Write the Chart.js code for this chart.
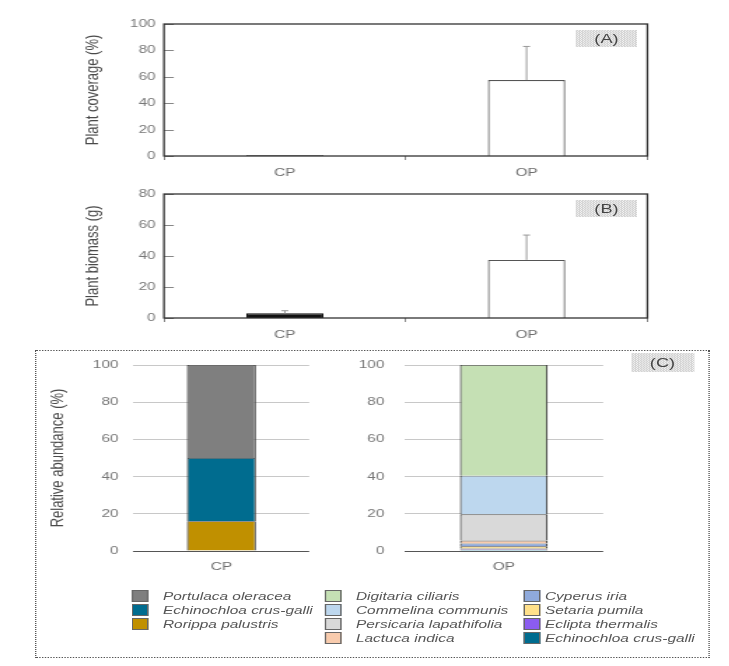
<!DOCTYPE html>
<html lang="en">
<head>
<meta charset="UTF-8">
<title>Plant coverage, biomass and relative abundance</title>
<script src="https://cdn.jsdelivr.net/npm/chart.js"></script>
<style>
  body, html {
    margin: 0;
    padding: 0;
    background: #fff;
  }
  /* the source figure is stretched sideways, so everything is laid out narrow and scaled */
  #fig {
    position: absolute;
    left: 0;
    top: 0;
    width: 521px;
    height: 666px;
    transform-origin: 0 0;
    transform: scaleX(1.4);
    font-family: 'Liberation Sans', Arial, sans-serif;
  }
  #fig canvas { position: absolute; }
  .tag {
    position: absolute;
    font-size: 13px;
    color: #444;
    text-align: center;
    background: repeating-conic-gradient(#d4d4d4 0 25%, #f2f2f2 0 50%) 0 0 / 2px 2px;
  }
  #boxC {
    position: absolute;
    border: 1px dotted #555;
    box-sizing: border-box;
  }
  .leg {
    position: absolute;
    font-size: 11px;
    font-style: italic;
    color: #555;
    white-space: nowrap;
    line-height: 14px;
  }
  .sw {
    position: absolute;
    border: 1px solid #666;
    box-sizing: border-box;
  }
</style>
</head>
<body>
<div id="fig">
  <div id="boxC"></div>
  <canvas id="chartA"></canvas>
  <canvas id="chartB"></canvas>
  <canvas id="chartCP"></canvas>
  <canvas id="chartOP"></canvas>
  <div class="tag" id="tagA">(A)</div>
  <div class="tag" id="tagB">(B)</div>
  <div class="tag" id="tagC">(C)</div>
  <div id="legend"></div>
</div>

<script>
const K = 1.4;

// data
const groups = ['CP', 'OP'];
const coverageMean = [0.6, 57.5];
const coverageErr = [0, 25.5];
const biomassMean = [3, 37.5];
const biomassErr = [1.7, 16];

// stacks, bottom to top
const cpSpecies = ['Rorippa palustris', 'Echinochloa crus-galli', 'Portulaca oleracea'];
const cpShare = [16, 34, 50];
const cpColors = ['#c09000', '#006c8f', '#7f7f7f'];

const opSpecies = ['Echinochloa crus-galli', 'Eclipta thermalis', 'Setaria pumila', 'Cyperus iria',
                   'Lactuca indica', 'Persicaria lapathifolia', 'Commelina communis', 'Digitaria ciliaris'];
const opShare = [0.8, 0.5, 1.2, 1.5, 1.6, 14.1, 20.8, 59.5];
const opColors = ['#006c8f', '#8b5cf0', '#ffe08a', '#8faadc', '#f8cbad', '#d9d9d9', '#bdd7ee', '#c5e0b4'];

const FONT = "'Liberation Sans', Arial, sans-serif";
Chart.defaults.font.family = FONT;

// positions are given in page pixels and squeezed by K
function place(id, left, top, w, h) {
    const el = document.getElementById(id);
    el.width = Math.round(w / K);
    el.height = h;
    el.style.left = (left / K) + 'px';
    el.style.top = top + 'px';
    return el;
}

function box(id, left, top, w, h) {
    const el = document.getElementById(id);
    el.style.left = (left / K) + 'px';
    el.style.top = top + 'px';
    el.style.width = (w / K) + 'px';
    el.style.height = h + 'px';
    el.style.lineHeight = h + 'px';
    return el;
}

// frame round the plot plus short inward ticks
const framePlugin = {
    id: 'frame',
    afterDatasetsDraw(chart) {
        const { ctx, chartArea: a, scales: { y } } = chart;
        ctx.save();
        ctx.strokeStyle = '#888';
        ctx.lineWidth = 1;
        y.ticks.forEach(t => {
            const py = Math.round(y.getPixelForValue(t.value)) + 0.5;
            ctx.beginPath();
            ctx.moveTo(a.left, py);
            ctx.lineTo(a.left + 7, py);
            ctx.stroke();
        });
        ctx.strokeStyle = '#333';
        ctx.lineWidth = 1.3;
        ctx.strokeRect(a.left, a.top, a.right - a.left, a.bottom - a.top);
        ctx.restore();
    }
};

function errorBars(errs) {
    return {
        id: 'errorBars',
        afterDatasetsDraw(chart) {
            const { ctx, scales: { y } } = chart;
            const meta = chart.getDatasetMeta(0);
            const vals = chart.data.datasets[0].data;
            ctx.save();
            ctx.strokeStyle = '#999';
            ctx.lineWidth = 1;
            errs.forEach((e, i) => {
                if (!e) return;
                const bar = meta.data[i];
                const top = y.getPixelForValue(vals[i] + e);
                ctx.beginPath();
                ctx.moveTo(bar.x, bar.y);
                ctx.lineTo(bar.x, top);
                ctx.moveTo(bar.x - 2.5, top);
                ctx.lineTo(bar.x + 2.5, top);
                ctx.stroke();
            });
            ctx.restore();
        }
    };
}

function meanChart(id, top, plotH, means, errs, yMax, title) {
    const cv = place(id, 70, top, 590, 14 + plotH + 30);
    return new Chart(cv, {
        type: 'bar',
        data: {
            labels: groups,
            datasets: [{
                data: means,
                backgroundColor: ['#111', '#fff'],
                borderColor: ['#111', '#555'],
                borderWidth: 1.2,
                borderSkipped: 'bottom',
                barPercentage: 0.32,
                categoryPercentage: 1
            }]
        },
        options: {
            responsive: false,
            animation: false,
            layout: { padding: { left: 12 / K, right: 12 / K, top: 14, bottom: 0 } },
            plugins: { legend: { display: false }, tooltip: { enabled: false } },
            scales: {
                x: {
                    grid: { drawOnChartArea: false, tickLength: 4, color: '#888' },
                    border: { display: false },
                    ticks: { color: '#6e6e6e', padding: 6, font: { size: 11 } },
                    afterFit(s) { s.height = 30; }
                },
                y: {
                    min: 0,
                    max: yMax,
                    ticks: { stepSize: 20, color: '#777', padding: 6, font: { size: 11 } },
                    grid: { display: false, drawTicks: false },
                    border: { display: false },
                    title: { display: true, text: title, color: '#4a4a4a', font: { size: 13 }, padding: 0 },
                    afterFit(s) { s.width = 82 / K; }
                }
            }
        },
        plugins: [framePlugin, errorBars(errs)]
    });
}

meanChart('chartA', 10, 132, coverageMean, coverageErr, 100, 'Plant coverage (%)');
meanChart('chartB', 180, 124, biomassMean, biomassErr, 80, 'Plant biomass (g)');

function stackChart(id, left, width, axisW, tickPad, label, names, shares, colors, barPct, title) {
    // top padding has to beat tick padding + half a label, so it is set generously
    const cv = place(id, left, 343, width, 22 + 186 + 30);
    return new Chart(cv, {
        type: 'bar',
        data: {
            labels: [label],
            datasets: names.map((n, i) => ({
                label: n,
                data: [shares[i]],
                backgroundColor: colors[i],
                borderColor: '#444',
                borderWidth: { top: 0.8, left: 1.2, right: 1.2, bottom: 0 },
                barPercentage: barPct,
                categoryPercentage: 1
            }))
        },
        options: {
            responsive: false,
            animation: false,
            layout: { padding: { left: title ? 7 / K : 0, right: 10 / K, top: 22, bottom: 0 } },
            plugins: { legend: { display: false }, tooltip: { enabled: false } },
            scales: {
                x: {
                    stacked: true,
                    grid: { display: false, drawTicks: false },
                    border: { display: false },
                    ticks: { color: '#6e6e6e', padding: 9, font: { size: 11 } },
                    afterFit(s) { s.height = 30; }
                },
                y: {
                    stacked: true,
                    min: 0,
                    max: 100,
                    ticks: { stepSize: 20, color: '#777', padding: tickPad / K, font: { size: 11 } },
                    grid: {
                        drawTicks: false,
                        color: c => (c.tick && c.tick.value === 0) ? '#555' : '#c8c8c8'
                    },
                    border: { display: false },
                    title: { display: !!title, text: title || '', color: '#4a4a4a', font: { size: 13 }, padding: 0 },
                    afterFit(s) { s.width = axisW / K; }
                }
            }
        }
    });
}

stackChart('chartCP', 40, 278, 86, 15, 'CP', cpSpecies, cpShare, cpColors, 0.394, 'Relative abundance (%)');
stackChart('chartOP', 358, 255, 46, 20, 'OP', opSpecies, opShare, opColors, 0.442, null);

box('boxC', 35, 350, 675, 308);
box('tagA', 576, 30, 61, 17);
box('tagB', 576, 200, 61, 17);
box('tagC', 631, 353, 63, 19);

// legend, top of each stack first
const cpItems = cpSpecies.map((n, i) => [n, cpColors[i]]).reverse();
const opItems = opSpecies.map((n, i) => [n, opColors[i]]).reverse();
const legendCols = [
    { sx: 132, tx: 163, items: cpItems },
    { sx: 325, tx: 356, items: opItems.slice(0, 4) },
    { sx: 524, tx: 545, items: opItems.slice(4) }
];
const rowY = [596, 610, 624, 638];

const legend = document.getElementById('legend');
legendCols.forEach(col => {
    col.items.forEach(([name, color], r) => {
        const sw = document.createElement('div');
        sw.className = 'sw';
        sw.style.left = (col.sx / K) + 'px';
        sw.style.top = (rowY[r] - 6) + 'px';
        sw.style.width = (17 / K) + 'px';
        sw.style.height = '12px';
        sw.style.background = color;
        legend.appendChild(sw);

        const tx = document.createElement('div');
        tx.className = 'leg';
        tx.style.left = (col.tx / K) + 'px';
        tx.style.top = (rowY[r] - 7) + 'px';
        tx.textContent = name;
        legend.appendChild(tx);
    });
});
</script>
</body>
</html>
